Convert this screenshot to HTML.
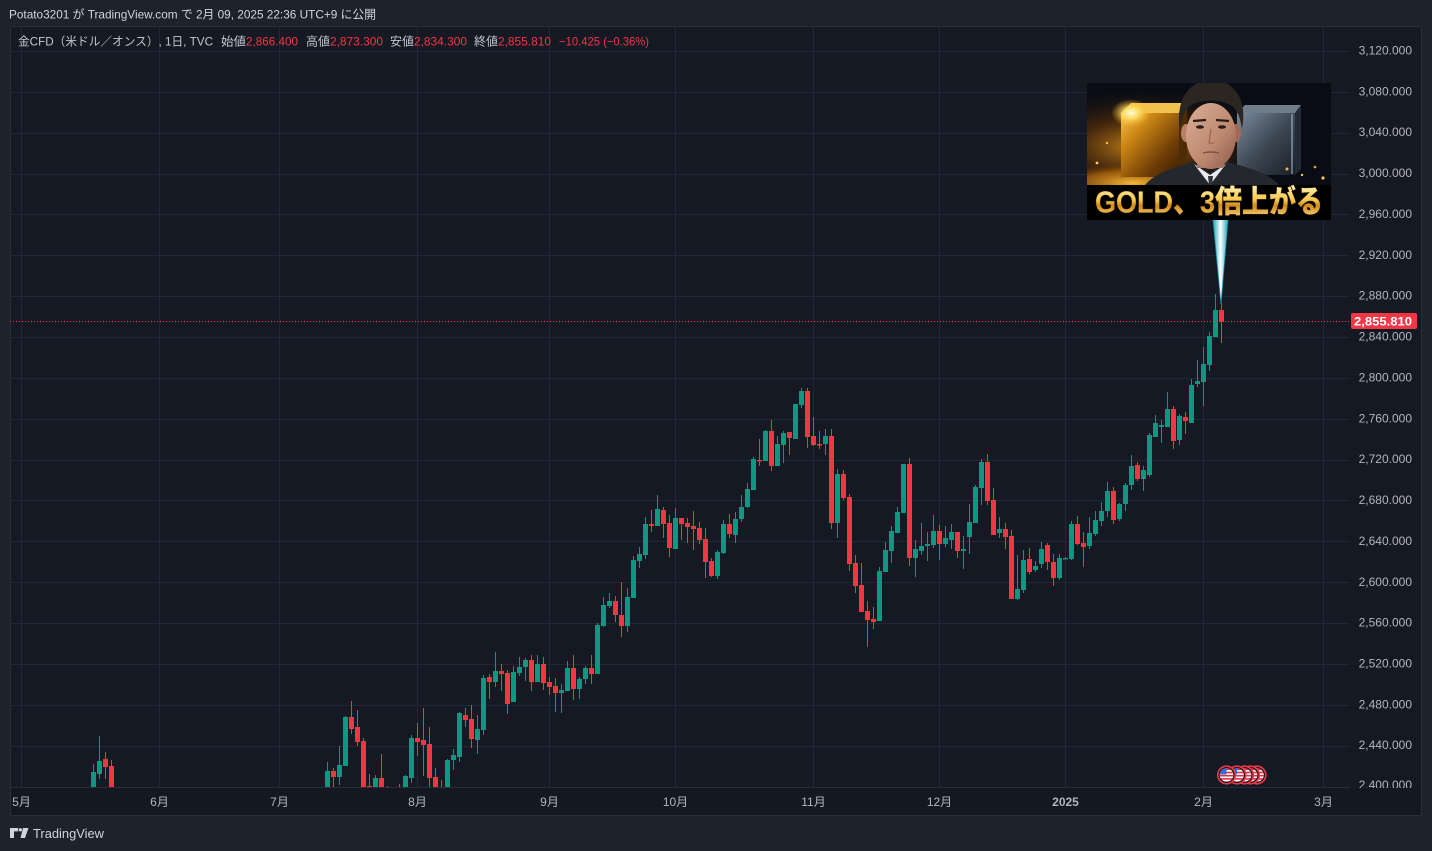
<!DOCTYPE html>
<html><head><meta charset="utf-8"><style>
html,body{margin:0;padding:0;background:#1e222d;width:1432px;height:851px;overflow:hidden}
svg{display:block}
text{font-family:"Liberation Sans","Noto Sans CJK JP",sans-serif}
</style></head><body>
<svg width="1432" height="851" viewBox="0 0 1432 851" xmlns="http://www.w3.org/2000/svg">
<defs>
<clipPath id="plot"><rect x="10" y="27" width="1340" height="760"/></clipPath>
<clipPath id="pax"><rect x="1350" y="27" width="71" height="761"/></clipPath>
<clipPath id="imgc"><rect width="244" height="137"/></clipPath>
<clipPath id="fc"><circle r="6.8"/></clipPath>
<radialGradient id="lglow" cx="0.22" cy="0.62" r="0.6">
<stop offset="0" stop-color="#ffa81a" stop-opacity="0.8"/>
<stop offset="0.45" stop-color="#6e3a05" stop-opacity="0.55"/>
<stop offset="1" stop-color="#0a0d15" stop-opacity="0"/>
</radialGradient>
<radialGradient id="bglow" cx="0.5" cy="0.5" r="0.5">
<stop offset="0" stop-color="#ffc23a" stop-opacity="0.95"/>
<stop offset="0.6" stop-color="#d0780c" stop-opacity="0.6"/>
<stop offset="1" stop-color="#6a3300" stop-opacity="0"/>
</radialGradient>
<linearGradient id="goldbar" x1="0" y1="0" x2="1" y2="1">
<stop offset="0" stop-color="#f7c24a"/>
<stop offset="0.3" stop-color="#c98414"/>
<stop offset="0.7" stop-color="#6e3c06"/>
<stop offset="1" stop-color="#3a2003"/>
</linearGradient>
<radialGradient id="spot" cx="0.5" cy="0.5" r="0.5">
<stop offset="0" stop-color="#fffbe0"/>
<stop offset="0.4" stop-color="#ffe36a" stop-opacity="0.85"/>
<stop offset="1" stop-color="#ffb020" stop-opacity="0"/>
</radialGradient>
<linearGradient id="silver" x1="0" y1="0" x2="1" y2="1">
<stop offset="0" stop-color="#7b8a9c"/>
<stop offset="0.5" stop-color="#3e4955"/>
<stop offset="1" stop-color="#181e27"/>
</linearGradient>
<linearGradient id="skin" x1="0" y1="0" x2="1" y2="1">
<stop offset="0" stop-color="#dcae96"/>
<stop offset="0.6" stop-color="#bd8870"/>
<stop offset="1" stop-color="#8a5846"/>
</linearGradient>
<linearGradient id="goldtxt" x1="0" y1="0" x2="0" y2="1">
<stop offset="0" stop-color="#fff4b8"/>
<stop offset="0.45" stop-color="#f5c64a"/>
<stop offset="0.6" stop-color="#d28a1a"/>
<stop offset="1" stop-color="#ffe08a"/>
</linearGradient>
<linearGradient id="ptr" x1="0" y1="0" x2="1" y2="0">
<stop offset="0" stop-color="#1aa6b7"/>
<stop offset="0.5" stop-color="#ffffff"/>
<stop offset="1" stop-color="#1aa6b7"/>
</linearGradient>
<g id="flag">
<circle r="9.6" fill="#f23645"/>
<circle r="8" fill="#131722"/>
<g clip-path="url(#fc)">
<rect x="-8" y="-8" width="16" height="16" fill="#ffffff"/>
<rect x="-8" y="-6.5" width="16" height="1.6" fill="#e0313f"/>
<rect x="-8" y="-3.3" width="16" height="1.6" fill="#e0313f"/>
<rect x="-8" y="-0.1" width="16" height="1.6" fill="#e0313f"/>
<rect x="-8" y="3.1" width="16" height="1.6" fill="#e0313f"/>
<rect x="-8" y="6.3" width="16" height="1.6" fill="#e0313f"/>
<rect x="-8" y="-8" width="8" height="7.5" fill="#2f6ed8"/>
</g>
</g>
</defs>

<!-- backgrounds -->
<rect width="1432" height="851" fill="#1e222d"/>
<rect x="10.5" y="26.5" width="1411" height="789" fill="#151924" stroke="#2a2e39" stroke-width="1"/>
<rect x="11" y="788" width="1410" height="27" fill="#141822"/>

<!-- header -->
<text x="9" y="18.5" font-size="12" fill="#d1d4dc" textLength="367" lengthAdjust="spacingAndGlyphs">Potato3201 が TradingView.com で 2月 09, 2025 22:36 UTC+9 に公開</text>

<!-- grid -->
<g stroke="#232734" stroke-width="1">
<path d="M10 51.5H1350M10 92.5H1350M10 133.5H1350M10 174.5H1350M10 214.5H1350M10 255.5H1350M10 296.5H1350M10 337.5H1350M10 378.5H1350M10 419.5H1350M10 460.5H1350M10 500.5H1350M10 541.5H1350M10 582.5H1350M10 623.5H1350M10 664.5H1350M10 705.5H1350M10 746.5H1350"/>
<path d="M21.5 27V787M159.5 27V787M279.5 27V787M417.5 27V787M549.5 27V787M675.5 27V787M813.5 27V787M939.5 27V787M1065.5 27V787M1203.5 27V787M1323.5 27V787"/>
</g>
<path d="M10 787.5H1350" stroke="#2a2e39" stroke-width="1"/>

<!-- legend -->
<g font-size="12">
<text x="18" y="45.5" fill="#c3c6ce" textLength="195" lengthAdjust="spacingAndGlyphs">金CFD（米ドル／オンス）, 1日, TVC</text>
<text x="221" y="45.5" fill="#c3c6ce" textLength="25" lengthAdjust="spacingAndGlyphs">始値</text>
<text x="246" y="45.5" fill="#f23645" textLength="52" lengthAdjust="spacingAndGlyphs">2,866.400</text>
<text x="306" y="45.5" fill="#c3c6ce" textLength="24" lengthAdjust="spacingAndGlyphs">高値</text>
<text x="330" y="45.5" fill="#f23645" textLength="53" lengthAdjust="spacingAndGlyphs">2,873.300</text>
<text x="390" y="45.5" fill="#c3c6ce" textLength="24" lengthAdjust="spacingAndGlyphs">安値</text>
<text x="414" y="45.5" fill="#f23645" textLength="53" lengthAdjust="spacingAndGlyphs">2,834.300</text>
<text x="474" y="45.5" fill="#c3c6ce" textLength="24" lengthAdjust="spacingAndGlyphs">終値</text>
<text x="498" y="45.5" fill="#f23645" textLength="53" lengthAdjust="spacingAndGlyphs">2,855.810</text>
<text x="559" y="45.5" fill="#f23645" textLength="90" lengthAdjust="spacingAndGlyphs">−10.425 (−0.36%)</text>
</g>

<!-- candles -->
<g clip-path="url(#plot)">
<path fill="none" stroke="#089981" stroke-width="1" d="M93.5 764V790M99.5 736V779M327.5 762V790M339.5 746V785M345.5 716V766M375.5 775V790M405.5 775V790M411.5 735V783M447.5 759V790M453.5 749V770M459.5 712V762M477.5 715V754M483.5 675V735M495.5 652V687M513.5 666V702M519.5 657V676M525.5 658V681M537.5 655V682M561.5 684V713M567.5 661V691M579.5 677V699M585.5 666V684M597.5 623V674M603.5 597V627M609.5 593V608M627.5 588V632M633.5 556V598M639.5 547V568M645.5 517V559M657.5 495V526M675.5 508V549M717.5 550V579M723.5 520V554M735.5 512V543M741.5 495V522M747.5 483V508M753.5 457V490M765.5 430V461M777.5 436V466M783.5 431V463M795.5 404V439M801.5 388V408M825.5 429V455M837.5 469V538M879.5 567V621M885.5 542V572M891.5 526V563M897.5 507V533M903.5 464V513M915.5 540V577M921.5 523V555M927.5 532V561M933.5 515V548M945.5 526V547M951.5 524V549M963.5 536V569M969.5 504V554M975.5 485V523M981.5 459V505M999.5 517V538M1017.5 555V600M1023.5 550V593M1035.5 561V572M1041.5 542V568M1059.5 554V580M1065.5 557V559M1071.5 521V560M1089.5 517V549M1095.5 511V536M1101.5 502V526M1107.5 482V517M1119.5 503V521M1125.5 483V511M1131.5 455V490M1143.5 466V491M1149.5 433V477M1155.5 415V437M1161.5 420V443M1167.5 392V427M1179.5 414V445M1191.5 379V423M1197.5 360V387M1203.5 347V406M1209.5 332V371M1215.5 294V337"/>
<path fill="#089981" d="M91 772h5V790h-5zM97 761h5V774h-5zM325 771h5V790h-5zM337 765h5V777h-5zM343 717h5V766h-5zM373 778h5V790h-5zM403 776h5V790h-5zM409 738h5V778h-5zM445 760h5V790h-5zM451 755h5V760h-5zM457 713h5V757h-5zM475 729h5V740h-5zM481 678h5V730h-5zM493 671h5V682h-5zM511 672h5V702h-5zM517 667h5V673h-5zM523 660h5V667h-5zM535 664h5V682h-5zM559 690h5V693h-5zM565 668h5V691h-5zM577 679h5V689h-5zM583 668h5V679h-5zM595 625h5V674h-5zM601 605h5V626h-5zM607 601h5V606h-5zM625 597h5V626h-5zM631 560h5V598h-5zM637 554h5V561h-5zM643 524h5V555h-5zM655 509h5V526h-5zM673 518h5V549h-5zM715 552h5V576h-5zM721 524h5V553h-5zM733 519h5V535h-5zM739 507h5V519h-5zM745 489h5V507h-5zM751 459h5V490h-5zM763 431h5V461h-5zM775 444h5V466h-5zM781 433h5V445h-5zM793 404h5V439h-5zM799 391h5V405h-5zM823 436h5V444h-5zM835 474h5V523h-5zM877 571h5V621h-5zM883 550h5V572h-5zM889 531h5V551h-5zM895 512h5V533h-5zM901 464h5V513h-5zM913 549h5V558h-5zM919 546h5V551h-5zM925 544h5V546h-5zM931 531h5V545h-5zM943 538h5V544h-5zM949 532h5V540h-5zM961 549h5V551h-5zM967 522h5V537h-5zM973 487h5V523h-5zM979 462h5V488h-5zM997 529h5V533h-5zM1015 589h5V599h-5zM1021 560h5V590h-5zM1033 566h5V570h-5zM1039 549h5V564h-5zM1057 558h5V578h-5zM1063 558h5V559.5h-5zM1069 524h5V559h-5zM1087 533h5V546h-5zM1093 520h5V534h-5zM1099 511h5V521h-5zM1105 491h5V511h-5zM1117 504h5V519h-5zM1123 485h5V504h-5zM1129 466h5V485h-5zM1141 470h5V479h-5zM1147 435h5V475h-5zM1153 423h5V437h-5zM1159 425h5V427h-5zM1165 409h5V427h-5zM1177 416h5V440h-5zM1189 385h5V423h-5zM1195 381h5V384h-5zM1201 364h5V382h-5zM1207 336h5V365h-5zM1213 310h5V337h-5z"/>
<path fill="none" stroke="#f23645" stroke-width="1" d="M105.5 752V779M111.5 760V790M333.5 768V790M351.5 701V734M357.5 710V746M363.5 738V790M369.5 774V790M381.5 754V790M387.5 786V790M399.5 784V790M417.5 723V756M423.5 708V776M429.5 727V790M435.5 768V790M441.5 780V790M465.5 708V727M471.5 705V748M489.5 674V699M501.5 664V691M507.5 670V714M531.5 655V691M543.5 657V690M549.5 677V695M555.5 678V712M573.5 655V700M591.5 655V684M615.5 596V622M621.5 582V637M651.5 510V532M663.5 507V538M669.5 515V557M681.5 518V540M687.5 518V543M693.5 511V550M699.5 522V544M705.5 528V578M711.5 558V577M729.5 514V538M759.5 439V466M771.5 420V471M789.5 432V455M807.5 388V448M813.5 417V446M819.5 431V449M831.5 429V529M843.5 470V500M849.5 494V571M855.5 555V593M861.5 563V612M867.5 601V647M873.5 607V629M909.5 458V566M939.5 525V560M957.5 532V558M987.5 454V505M993.5 488V535M1005.5 523V549M1011.5 530V599M1029.5 548V574M1047.5 543V570M1053.5 554V586M1077.5 516V545M1083.5 532V567M1113.5 487V524M1137.5 462V481M1173.5 406V449M1185.5 412V434M1221.5 303V343"/>
<path fill="#f23645" d="M103 759h5V767h-5zM109 766h5V790h-5zM331 771h5V777h-5zM349 717h5V729h-5zM355 727h5V742h-5zM361 741h5V790h-5zM367 786h5V790h-5zM379 778h5V790h-5zM415 738h5V742h-5zM421 740h5V745h-5zM427 744h5V778h-5zM433 777h5V790h-5zM463 715h5V720h-5zM469 719h5V739h-5zM487 677h5V682h-5zM499 671h5V674h-5zM505 673h5V704h-5zM529 660h5V682h-5zM541 664h5V683h-5zM547 682h5V687h-5zM553 686h5V693h-5zM571 668h5V689h-5zM589 668h5V674h-5zM613 601h5V615h-5zM619 615h5V626h-5zM649 524h5V526h-5zM661 510h5V524h-5zM667 523h5V548h-5zM679 518h5V524h-5zM685 523h5V527h-5zM691 526h5V529h-5zM697 528h5V540h-5zM703 539h5V562h-5zM709 561h5V576h-5zM727 524h5V534h-5zM757 460h5V461.5h-5zM769 431h5V466h-5zM787 432h5V438h-5zM805 391h5V437h-5zM811 436h5V445h-5zM817 444h5V445.5h-5zM829 436h5V523h-5zM841 474h5V498h-5zM847 497h5V564h-5zM853 563h5V586h-5zM859 585h5V612h-5zM865 611h5V620h-5zM871 619h5V622h-5zM907 464h5V558h-5zM937 531h5V544h-5zM955 532h5V551h-5zM985 462h5V501h-5zM991 500h5V535h-5zM1003 529h5V537h-5zM1009 536h5V599h-5zM1027 559h5V572h-5zM1045 545h5V562h-5zM1051 562h5V578h-5zM1075 524h5V544h-5zM1081 543h5V547h-5zM1111 491h5V520h-5zM1135 465h5V479h-5zM1171 409h5V441h-5zM1183 417h5V421h-5zM1219 310h5V322h-5z"/>
</g>

<!-- current price line -->
<path d="M10 321.5H1350" stroke="#f23645" stroke-width="1" stroke-dasharray="1 2"/>

<!-- price axis labels -->
<g font-size="12" fill="#b2b5be" text-anchor="end" clip-path="url(#pax)">
<text x="1412" y="54.5">3,120.000</text>
<text x="1412" y="95.4">3,080.000</text>
<text x="1412" y="136.2">3,040.000</text>
<text x="1412" y="177.1">3,000.000</text>
<text x="1412" y="218">2,960.000</text>
<text x="1412" y="258.8">2,920.000</text>
<text x="1412" y="299.7">2,880.000</text>
<text x="1412" y="340.6">2,840.000</text>
<text x="1412" y="381.4">2,800.000</text>
<text x="1412" y="422.3">2,760.000</text>
<text x="1412" y="463.2">2,720.000</text>
<text x="1412" y="504">2,680.000</text>
<text x="1412" y="544.9">2,640.000</text>
<text x="1412" y="585.8">2,600.000</text>
<text x="1412" y="626.6">2,560.000</text>
<text x="1412" y="667.5">2,520.000</text>
<text x="1412" y="708.4">2,480.000</text>
<text x="1412" y="749.2">2,440.000</text>
<text x="1412" y="789">2,400.000</text>
</g>
<rect x="1351" y="313" width="66" height="16" rx="2" fill="#f23645"/>
<text x="1412" y="325.5" font-size="12" fill="#ffffff" text-anchor="end" font-weight="bold" textLength="58" lengthAdjust="spacingAndGlyphs">2,855.810</text>

<!-- time axis labels -->
<g font-size="12" fill="#b2b5be" text-anchor="middle">
<text x="21.5" y="806">5月</text>
<text x="159.5" y="806">6月</text>
<text x="279.5" y="806">7月</text>
<text x="417.5" y="806">8月</text>
<text x="549.5" y="806">9月</text>
<text x="675.5" y="806">10月</text>
<text x="813.5" y="806">11月</text>
<text x="939.5" y="806">12月</text>
<text x="1065.5" y="806" font-weight="bold">2025</text>
<text x="1203.5" y="806">2月</text>
<text x="1323.5" y="806">3月</text>
</g>

<!-- event flags -->
<use href="#flag" x="1257" y="775"/>
<use href="#flag" x="1250.5" y="775"/>
<use href="#flag" x="1244.5" y="775"/>
<use href="#flag" x="1237" y="775"/>
<use href="#flag" x="1226.5" y="775"/>

<!-- callout pointer -->
<polygon points="1213,219 1228,219 1221,304" fill="url(#ptr)" stroke="#15a0b3" stroke-width="0.8"/>

<!-- thumbnail image -->
<g transform="translate(1087,83)">
<g clip-path="url(#imgc)">
<rect width="244" height="102" fill="#090c14"/>
<rect width="244" height="102" fill="url(#lglow)"/>
<ellipse cx="45" cy="100" rx="85" ry="20" fill="url(#bglow)"/>
<polygon points="34,30 44,20 100,20 92,30" fill="#f2c24e"/>
<rect x="34" y="30" width="58" height="64" fill="url(#goldbar)"/>
<polygon points="92,30 100,20 100,84 92,94" fill="#4e2c05"/>
<ellipse cx="44" cy="30" rx="20" ry="14" fill="url(#spot)"/>
<polygon points="150,30 158,22 214,22 208,30" fill="#6f7c8b"/>
<rect x="150" y="30" width="58" height="62" fill="url(#silver)"/>
<polygon points="208,30 214,22 214,86 208,92" fill="#222b36"/>
<path d="M205 31V91" stroke="#a9c2dc" stroke-width="1"/>
<circle cx="200" cy="86" r="1.5" fill="#ffb640"/>
<circle cx="215" cy="92" r="1.2" fill="#ffc050"/>
<circle cx="228" cy="84" r="1.3" fill="#ff9e2a"/>
<circle cx="236" cy="95" r="1.6" fill="#ffbf48"/>
<circle cx="10" cy="80" r="1.4" fill="#ffd060"/>
<circle cx="20" cy="60" r="1.2" fill="#ffb640"/>
<!-- man -->
<path d="M58 102C68 90 88 84 106 79L123 90L140 79C160 84 182 90 192 102Z" fill="#25272e"/>
<polygon points="107,81 123,102 139,81 123,92" fill="#e6e8ee"/>
<polygon points="121,93 126,93 125,102 122,102" fill="#30333b"/>
<rect x="110" y="68" width="27" height="17" fill="#a8745e"/>
<ellipse cx="99" cy="50" rx="5" ry="9" fill="#b98068"/>
<ellipse cx="149" cy="50" rx="5" ry="9" fill="#a26a55"/>
<ellipse cx="124" cy="53" rx="25" ry="33" fill="url(#skin)"/>
<path d="M93 46C88 15 104 -3 124 -3C146 -3 161 15 155 46C153 32 149 24 141 21C131 16 115 17 106 21C98 25 95 34 93 46Z" fill="#2b2622"/>
<path d="M106 38L119 37M129 37L142 38" stroke="#2a1c16" stroke-width="2.2"/>
<ellipse cx="113" cy="44" rx="4" ry="1.8" fill="#2a1c16"/>
<ellipse cx="135" cy="44" rx="4" ry="1.8" fill="#2a1c16"/>
<path d="M124 46L122 60L127 60" stroke="#9b6650" stroke-width="1.2" fill="none"/>
<path d="M116 70Q124 68 132 70" stroke="#8a4d45" stroke-width="1.6" fill="none"/>
<!-- text strip -->
<rect y="102" width="244" height="35" fill="#000000"/>
<text x="122" y="129.5" text-anchor="middle" font-size="31" font-weight="900" fill="url(#goldtxt)" stroke="#2a1800" stroke-width="1.2" paint-order="stroke" textLength="228" lengthAdjust="spacingAndGlyphs" style="font-family:'Liberation Sans','Noto Sans CJK JP',sans-serif">GOLD、3倍上がる</text>
</g>
</g>

<!-- TradingView logo -->
<g fill="#d1d4dc">
<path d="M10 828h8v3.4h-4v6.6h-4z"/>
<circle cx="20.3" cy="829.8" r="1.7"/>
<polygon points="23,828 28.5,828 25,838 20.5,838"/>
</g>
<text x="33" y="838" font-size="13" fill="#d1d4dc" textLength="71" lengthAdjust="spacingAndGlyphs">TradingView</text>
</svg>
</body></html>
